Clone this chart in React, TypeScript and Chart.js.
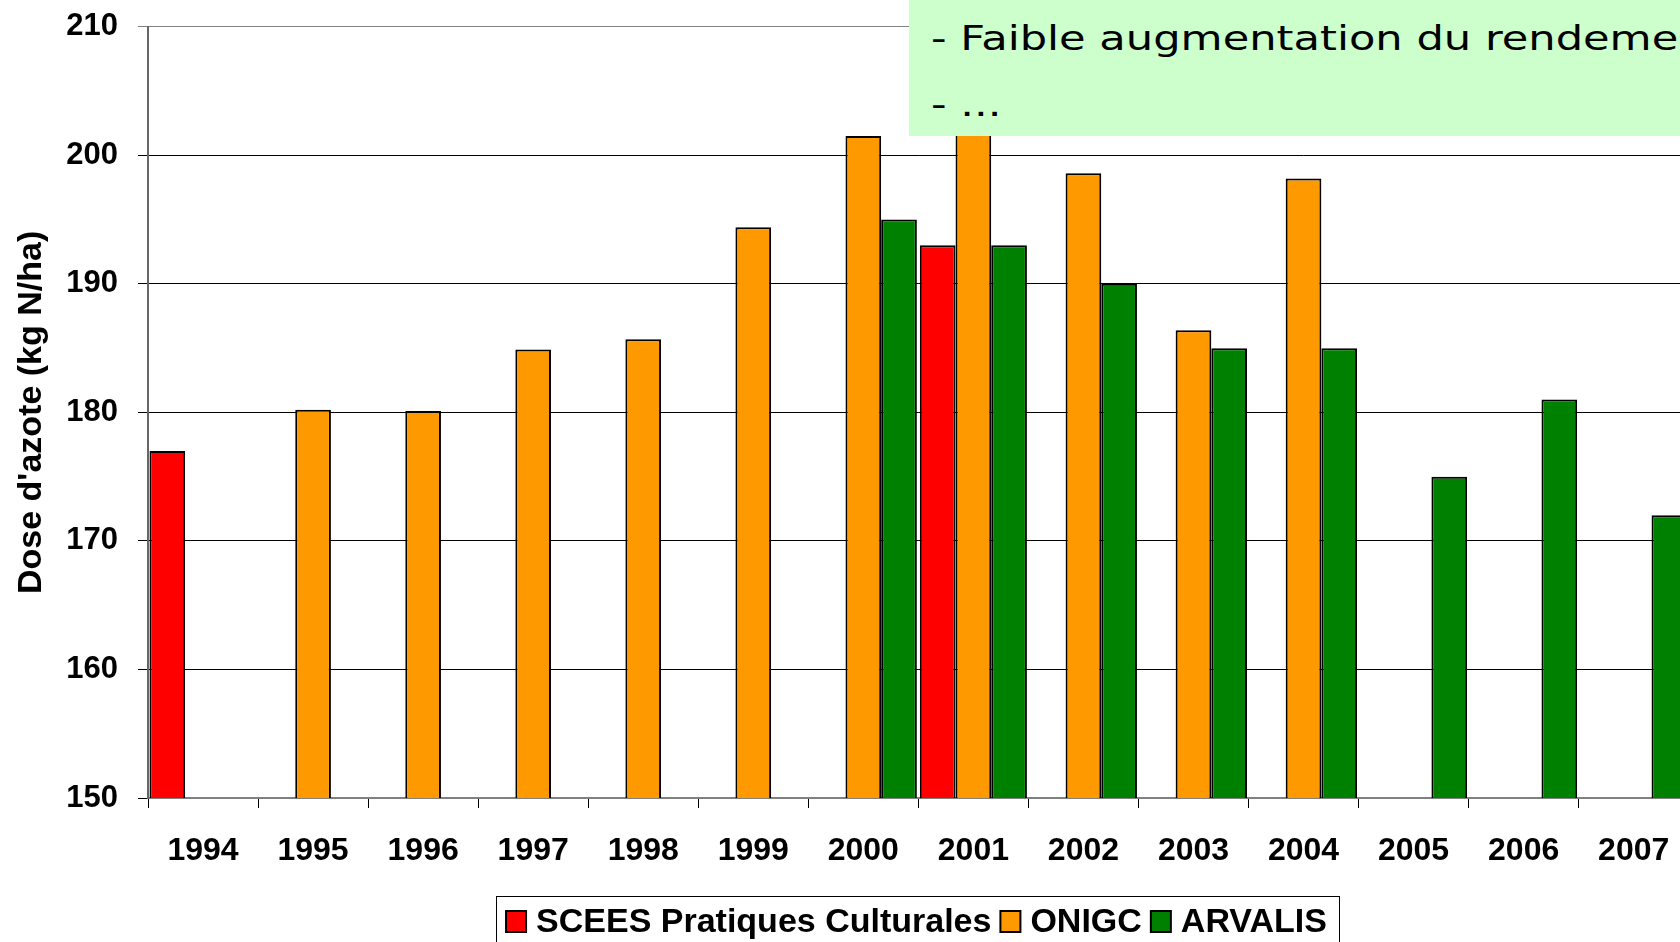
import React, { useEffect, useRef } from "react";
import { Chart, registerables } from "chart.js";

Chart.register(...registerables);

const years = ["1994", "1995", "1996", "1997", "1998", "1999", "2000", "2001", "2002", "2003", "2004", "2005", "2006", "2007"];
const sceesValues = [177, null, null, null, null, null, null, 193, null, null, null, null, null, null];
const onigcValues = [null, 180.2, 180.1, 184.9, 185.7, 194.4, 201.5, 203, 198.6, 186.4, 198.2, null, null, null];
const arvalisValues = [null, null, null, null, null, null, 195, 193, 190, 185, 185, 175, 181, 172];
const seriesLabels = ["SCEES Pratiques Culturales", "ONIGC", "ARVALIS"];
const seriesColors = ["#FF0000", "#FF9900", "#008000"];
const yMin = 150;
const yMax = 210;
const yStep = 10;
const yAxisTitle = "Dose d'azote (kg N/ha)";
const noteLines = ["- Faible augmentation du rendement", "- ..."];

const FONT = '"Liberation Sans", Arial, Helvetica, sans-serif';

const boxLegend = {
  id: "boxLegend",
  afterDraw(chart: any) {
    const ctx = chart.ctx as CanvasRenderingContext2D;
    ctx.save();
    ctx.font = `bold 34px ${FONT}`;
    const sq = 20;
    const gapBoxText = 10;
    const gapItems = 9;
    const padL = 10;
    const padR = 12;
    const items = chart.data.datasets.map((d: any) => ({
      label: d.label as string,
      color: d.backgroundColor as string,
      w: ctx.measureText(d.label).width,
    }));
    let total = padL + padR + gapItems * (items.length - 1);
    items.forEach((it: any) => (total += sq + gapBoxText + it.w));
    const centerX = 917.5;
    const left = centerX - total / 2;
    const top = 896;
    ctx.fillStyle = "#ffffff";
    ctx.fillRect(left, top, total, 80);
    ctx.strokeStyle = "#000";
    ctx.lineWidth = 1;
    ctx.strokeRect(Math.round(left) + 0.5, top + 0.5, Math.round(total), 80);
    let x = left + padL;
    const baseline = 932;
    items.forEach((it: any) => {
      ctx.fillStyle = it.color;
      ctx.fillRect(x, 911, sq, 21);
      ctx.strokeStyle = "#000";
      ctx.lineWidth = 2;
      ctx.strokeRect(x, 911, sq, 21);
      ctx.fillStyle = "#000";
      ctx.textBaseline = "alphabetic";
      ctx.textAlign = "left";
      ctx.fillText(it.label, x + sq + gapBoxText, baseline);
      x += sq + gapBoxText + it.w + gapItems;
    });
    ctx.restore();
  },
};

export default function App() {
  const canvasRef = useRef<HTMLCanvasElement | null>(null);

  useEffect(() => {
    if (!canvasRef.current) return;
    const chart = new Chart(canvasRef.current, {
      type: "bar",
      data: {
        labels: years,
        datasets: [sceesValues, onigcValues, arvalisValues].map((vals, i) => ({
          label: seriesLabels[i],
          data: vals,
          backgroundColor: seriesColors[i],
          borderColor: "#000000",
          borderWidth: 2,
          borderSkipped: false,
          categoryPercentage: 0.973,
          barPercentage: 1,
        })),
      },
      options: {
        animation: false,
        responsive: false,
        maintainAspectRatio: false,
        devicePixelRatio: 1,
        layout: { padding: { top: 26.8, right: 11.3, left: 0, bottom: 0 } },
        plugins: {
          legend: { display: false },
          tooltip: { enabled: false },
          title: { display: false },
        },
        scales: {
          x: {
            afterFit(scale: any) {
              scale.height = 144;
              scale.paddingLeft = 0;
              scale.paddingRight = 0;
            },
            grid: {
              offset: true,
              drawOnChartArea: false,
              drawTicks: true,
              tickLength: 10,
              color: "#000",
              lineWidth: 1,
            },
            border: { display: true, color: "#808080", width: 2 },
            ticks: {
              color: "#000",
              font: { family: FONT, size: 32, weight: "bold" },
              padding: 24,
              maxRotation: 0,
              autoSkip: false,
            },
          },
          y: {
            min: yMin,
            max: yMax,
            afterFit(scale: any) {
              scale.width = 148;
              scale.paddingTop = 0;
              scale.paddingBottom = 0;
            },
            grid: {
              color: (c: any) => (c.tick && c.tick.value === yMax ? "#808080" : "#000"),
              lineWidth: 1,
              drawTicks: true,
              tickLength: 10,
            },
            border: { display: true, color: "#666", width: 2 },
            ticks: {
              stepSize: yStep,
              color: "#000",
              font: { family: FONT, size: 31, weight: "bold" },
              padding: 20,
            },
            title: {
              display: true,
              text: yAxisTitle,
              color: "#000",
              font: { family: FONT, size: 34, weight: "bold" },
              padding: { top: 11, bottom: 0 },
            },
          },
        },
      },
      plugins: [boxLegend],
    });
    return () => chart.destroy();
  }, []);

  return (
    <div
      style={{
        position: "fixed",
        left: 0,
        top: 0,
        width: "1680px",
        height: "942px",
        overflow: "hidden",
        background: "#fff",
      }}
    >
      <canvas
        ref={canvasRef}
        width={1700}
        height={942}
        style={{ position: "absolute", left: 0, top: 0, width: "1700px", height: "942px" }}
      />
      <div
        style={{
          position: "absolute",
          left: "909px",
          top: 0,
          width: "900px",
          height: "136px",
          background: "#CCFFCC",
          overflow: "hidden",
        }}
      >
        {noteLines.map((line, i) => (
          <div
            key={i}
            style={{
              position: "absolute",
              left: "22px",
              top: i === 0 ? "21px" : "87px",
              fontFamily: '"DejaVu Sans", sans-serif',
              fontSize: "34px",
              lineHeight: "34px",
              color: "#000",
              whiteSpace: "nowrap",
              transform: "scaleX(1.27)",
              transformOrigin: "left top",
            }}
          >
            {line}
          </div>
        ))}
      </div>
    </div>
  );
}
